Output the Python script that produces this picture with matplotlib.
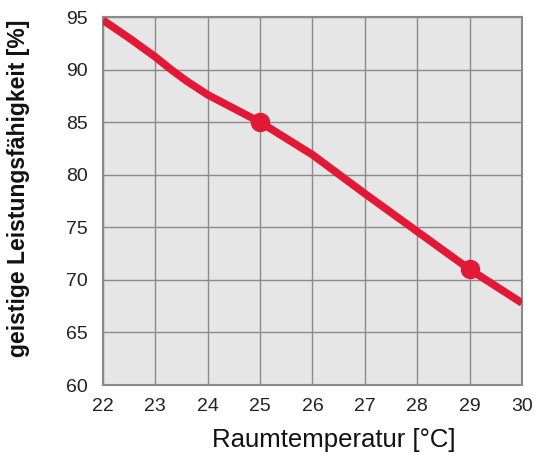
import matplotlib
matplotlib.use("Agg")
import matplotlib.pyplot as plt

# values
temp = [22, 22.5, 23, 23.3, 23.6, 24, 24.5, 25, 26, 27, 28, 29, 30]
leistung = [94.7, 93.0, 91.2, 90.0, 88.9, 87.6, 86.3, 85.0, 81.9, 78.2, 74.6, 71.0, 67.8]
marker_temp = [25, 29]
marker_val = [85, 71]
xticks = [22, 23, 24, 25, 26, 27, 28, 29, 30]
yticks = [60, 65, 70, 75, 80, 85, 90, 95]

plt.rcParams['font.family'] = ['Liberation Sans', 'DejaVu Sans']

fig = plt.figure(figsize=(5.49, 4.65), dpi=100)
ax = fig.add_axes([0.1876, 0.172, 0.7632, 0.7914])
ax.set_facecolor('#e6e6e6')

ax.plot(temp, leistung, color='#e31837', lw=5.5, solid_capstyle='butt', zorder=3)
ax.plot(marker_temp, marker_val, 'o', color='#e31837', ms=13, zorder=4)

ax.set_xlim(22, 30)
ax.set_ylim(60, 95)
ax.set_xticks(xticks)
ax.set_yticks(yticks)
ax.grid(True, color='#8a8a8a', lw=1)
ax.set_axisbelow(True)
ax.tick_params(length=0, labelsize=14, colors='#222222')
ax.tick_params(axis='x', pad=9)
ax.tick_params(axis='y', pad=11)
for s in ax.spines.values():
    s.set_color('#8a8a8a')
    s.set_linewidth(1.5)

ax.set_xlabel('Raumtemperatur [°C]', fontsize=18.5, color='#111111')
ax.set_ylabel('geistige Leistungsfähigkeit [%]', fontsize=16.5, fontweight='bold',
              color='#111111')
ax.xaxis.set_label_coords(0.551, -0.118)
ax.yaxis.set_label_coords(-0.175, 0.535)

fig.savefig('out.png', dpi=100)
